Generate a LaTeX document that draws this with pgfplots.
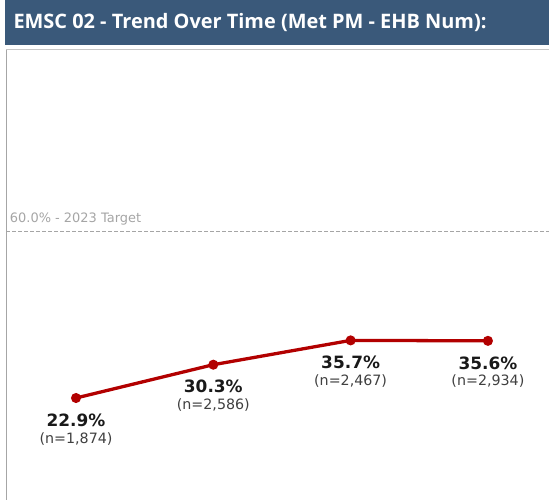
\documentclass[border=0pt]{standalone}
\usepackage{pgfplots}
\usepackage{pgfplotstable}
\pgfplotsset{compat=1.18}
\usepackage{fontspec}
\setmainfont{Open Sans}
\newfontfamily\labelfont{DejaVu Sans}
\definecolor{barblue}{RGB}{58,89,122}
\definecolor{linered}{RGB}{178,0,0}
\definecolor{refgray}{RGB}{165,165,165}

\pgfplotstableread{
x y n
0 22.9 1874
1 30.3 2586
2 35.7 2467
3 35.6 2934
}\trend

\begin{document}
\begin{tikzpicture}[x=1bp,y=1bp]
\path[use as bounding box] (0,0) rectangle (549,500);
% title bar
\fill[barblue] (5,455) rectangle (549,500);
\node[anchor=west, text=white, font=\fontsize{20}{23}\selectfont\bfseries] at (10,477.5)
  {EMSC 02 - Trend Over Time (Met PM - EHB Num):};

\begin{axis}[
  at={(6bp,0bp)}, anchor=south west,
  scale only axis, width=543bp, height=451bp,
  xmin=-0.51, xmax=3.445,
  ymin=0.24, ymax=100.44,
  axis line style={draw=none},
  ticks=none,
  clip=false,
]
\draw[gray!70, line width=1pt] (rel axis cs:0,0) -- (rel axis cs:0,1);
\draw[gray!45, line width=0.8pt] (rel axis cs:0,1) -- (rel axis cs:1,1);

% 2023 target
\addplot[refgray, line width=0.8pt, dash pattern=on 4bp off 2bp] coordinates {(-0.51,60) (3.445,60)};
\node[anchor=south west, text=refgray, font=\labelfont\fontsize{13}{15}\selectfont, inner sep=1pt]
  at (axis cs:-0.49,61.0) {60.0\% - 2023 Target};

\addplot[linered, line width=3.3pt, mark=*, mark size=3.3pt,
  visualization depends on={\thisrow{n}\as\nval},
  point meta=explicit symbolic,
  nodes near coords={{\fontsize{17}{19}\selectfont\bfseries\color{black!90}\pgfplotspointmeta\%}\\[5pt]{\fontsize{14.3}{16}\selectfont\color{black!75}(n=\pgfmathprintnumber[fixed,precision=0,1000 sep={,},assume math mode=true]{\nval})}},
  every node near coord/.style={anchor=north, align=center, yshift=-13bp, inner sep=1pt, font=\labelfont},
] table[x=x, y=y, meta=y] {\trend};
\end{axis}
\end{tikzpicture}
\end{document}
